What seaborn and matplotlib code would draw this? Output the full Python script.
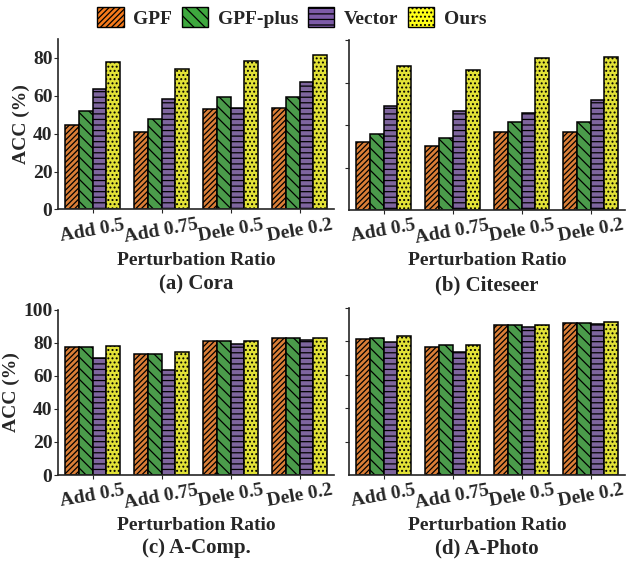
import numpy as np
import pandas as pd
import matplotlib
matplotlib.use("Agg")
import matplotlib.pyplot as plt
from matplotlib.patches import Patch
import seaborn as sns

# Data
ratios = ["Add 0.5", "Add 0.75", "Dele 0.5", "Dele 0.2"]
methods = ["GPF", "GPF-plus", "Vector", "Ours"]

cora = {
    "GPF": [44.7, 41.1, 52.9, 53.6],
    "GPF-plus": [51.9, 47.8, 59.3, 59.4],
    "Vector": [63.6, 58.2, 53.6, 67.3],
    "Ours": [78.1, 74.4, 78.6, 81.6],
}
citeseer = {
    "GPF": [31.8, 30.0, 36.8, 36.5],
    "GPF-plus": [36.0, 33.8, 41.2, 41.5],
    "Vector": [49.1, 46.5, 45.5, 52.0],
    "Ours": [67.9, 65.7, 71.7, 72.1],
}
acomp = {
    "GPF": [77.5, 72.9, 81.2, 82.6],
    "GPF-plus": [77.5, 72.9, 81.2, 82.6],
    "Vector": [70.5, 63.2, 79.4, 81.4],
    "Ours": [78.1, 74.1, 81.2, 82.7],
}
aphoto = {
    "GPF": [81.6, 76.6, 89.6, 91.1],
    "GPF-plus": [82.2, 77.6, 89.6, 91.1],
    "Vector": [79.8, 73.6, 88.4, 90.5],
    "Ours": [83.0, 78.0, 90.0, 91.7],
}

colors = ["#F57A1C", "#3EA83E", "#7D5BA8", "#FFFF1A"]
hatches = ["//////", "\\\\\\", "---", "...."]

sns.set_style("ticks")
plt.rcParams["font.family"] = ["Liberation Serif", "DejaVu Serif"]
plt.rcParams["font.weight"] = "bold"
plt.rcParams["hatch.linewidth"] = 0.9
plt.rcParams["axes.linewidth"] = 1.2

fig = plt.figure(figsize=(6.26, 5.68), dpi=100)

W, H = 626, 568
panels = [
    (cora, "(a) Cora", (58, 39, 334, 209.5), (0, 90), [0, 20, 40, 60, 80], True),
    (citeseer, "(b) Citeseer", (349, 40, 625, 210), (0, 80), [20, 40, 60, 80], False),
    (acomp, "(c) A-Comp.", (58, 309.5, 334, 475), (0, 100), [0, 20, 40, 60, 80, 100], True),
    (aphoto, "(d) A-Photo", (349, 308, 625, 475), (0, 100), [20, 40, 60, 80, 100], False),
]

for data, title, (x0, y0, x1, y1), ylim, yticks, show_labels in panels:
    ax = fig.add_axes([x0 / W, 1 - y1 / H, (x1 - x0) / W, (y1 - y0) / H])
    df = pd.DataFrame(data, index=ratios).reset_index(names="Ratio")
    df = df.melt(id_vars="Ratio", var_name="Method", value_name="ACC")
    sns.barplot(data=df, x="Ratio", y="ACC", hue="Method", order=ratios,
                hue_order=methods, palette=colors, width=0.8, gap=0,
                edgecolor="black", linewidth=1.1, legend=False, ax=ax)
    for cont, h in zip(ax.containers, hatches):
        for bar in cont:
            bar.set_hatch(h)
    ax.set_xlim(-0.5, 3.5)
    ax.set_ylim(*ylim)
    ax.set_yticks(yticks)
    if show_labels:
        ax.set_ylabel("ACC (%)", fontsize=14, fontweight="bold", labelpad=2)
        ax.tick_params(axis="y", labelsize=14, pad=1)
    else:
        ax.set_ylabel("")
        ax.set_yticklabels([])
    ax.set_xticks(range(len(ratios)))
    ax.set_xticklabels(ratios, rotation=10, fontsize=14, fontweight="bold")
    ax.tick_params(axis="x", pad=2, length=3)
    ax.tick_params(axis="y", length=3)
    ax.set_xlabel("Perturbation Ratio", fontsize=14, fontweight="bold", labelpad=4)
    ax.set_title(title, y=-0.52, fontsize=15, fontweight="bold")
    sns.despine(ax=ax)

handles = [Patch(facecolor=c, edgecolor="black", hatch=h, label=m)
           for c, h, m in zip(colors, hatches, methods)]
fig.legend(handles=handles, loc="upper center", bbox_to_anchor=(292 / W, 1.018),
           ncol=4, frameon=False, prop={"size": 14, "weight": "bold"},
           handlelength=1.35, handleheight=1.15, columnspacing=0.5, handletextpad=0.5)

fig.savefig("out.png", dpi=100)
